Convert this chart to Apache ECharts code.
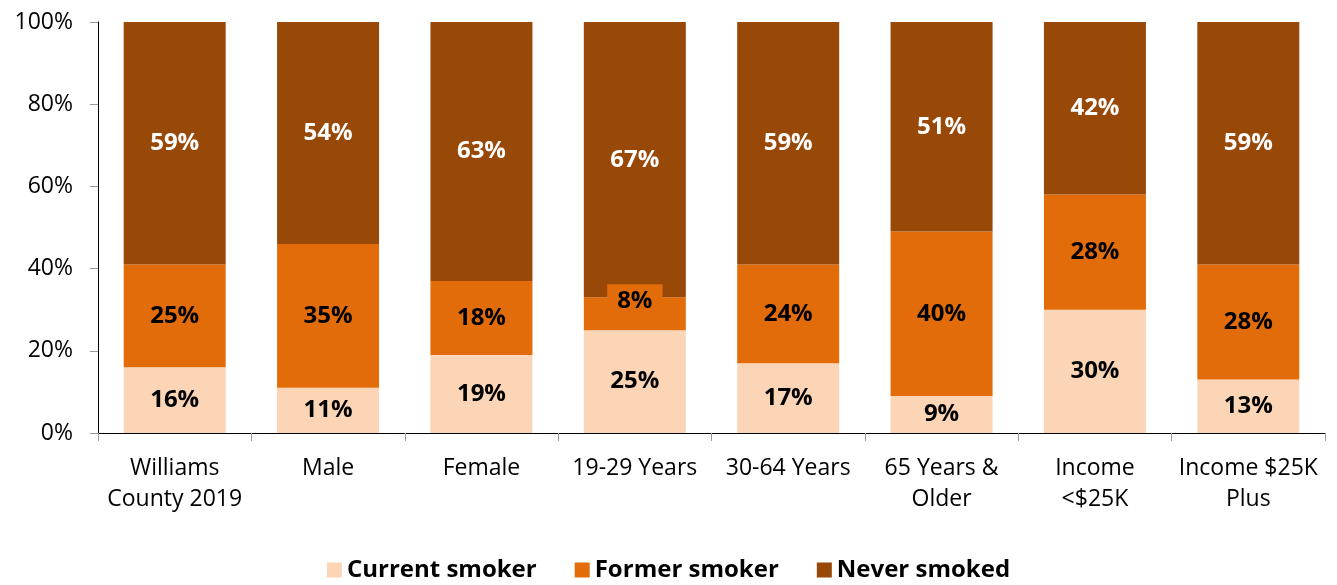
<!DOCTYPE html>
<html>
<head>
<meta charset="utf-8">
<script src="https://cdn.jsdelivr.net/npm/echarts@6/dist/echarts.min.js"></script>
<style>
  html, body { margin: 0; padding: 0; background: #fff; }
  #chart { width: 1337px; height: 585px; }
</style>
</head>
<body>
<div id="chart"></div>
<script>
const categories = ['Williams\nCounty 2019', 'Male', 'Female', '19-29 Years', '30-64 Years', '65 Years &\nOlder', 'Income\n<$25K', 'Income $25K\nPlus']
const currentSmoker = [16, 11, 19, 25, 17, 9, 30, 13]
const formerSmoker = [25, 35, 18, 8, 24, 40, 28, 28]
const neverSmoked = [59, 54, 63, 67, 59, 51, 42, 59]
const yTicks = [0, 20, 40, 60, 80, 100]

const font = '"Open Sans", "Noto Sans", sans-serif'
const colors = ['#FBD5B5', '#E36C0A', '#984807']

function seriesOf(name, values, color, textColor) {
  return {
    name: name,
    type: 'bar',
    stack: 'total',
    barWidth: 102,
    data: values,
    itemStyle: { color: color },
    label: {
      show: true,
      position: 'inside',
      formatter: p => p.value + '%',
      color: textColor,
      fontFamily: font,
      fontWeight: 'bold',
      fontSize: 24
    }
  }
}

const chart = echarts.init(document.getElementById('chart'))

const former = seriesOf('Former smoker', formerSmoker, colors[1], '#000')
// the small 19-29 label sits on its own box, pushed up a bit
former.data = formerSmoker.map((v, i) => i === 3 ? {
  value: v,
  label: { offset: [0, -13], backgroundColor: colors[1], padding: [7, 10, 2, 10] }
} : v)

chart.setOption({
  animation: false,
  grid: { left: 98, right: 12, top: 22, bottom: 152 },
  legend: {
    bottom: -2,
    left: 'center',
    itemWidth: 15,
    itemHeight: 15,
    itemGap: 38,
    itemTextGap: 6,
    icon: 'rect',
    textStyle: { fontFamily: font, fontWeight: 'bold', fontSize: 24, color: '#000' },
    data: ['Current smoker', 'Former smoker', 'Never smoked']
  },
  xAxis: {
    type: 'category',
    data: categories,
    axisLine: { lineStyle: { color: '#000', width: 1 } },
    axisTick: { show: true, length: 8, lineStyle: { color: '#999' } },
    axisLabel: {
      fontFamily: font,
      fontSize: 23,
      color: '#000',
      lineHeight: 31,
      margin: 20,
      interval: 0
    }
  },
  yAxis: {
    type: 'value',
    min: yTicks[0],
    max: yTicks[yTicks.length - 1],
    interval: 20,
    axisLine: { show: true, lineStyle: { color: '#000', width: 1 } },
    axisTick: { show: true, length: 8, lineStyle: { color: '#999' } },
    splitLine: { show: false },
    axisLabel: {
      fontFamily: font,
      fontSize: 23,
      color: '#000',
      margin: 25,
      formatter: v => v + '%'
    }
  },
  series: [
    seriesOf('Current smoker', currentSmoker, colors[0], '#000'),
    former,
    seriesOf('Never smoked', neverSmoked, colors[2], '#fff')
  ]
})
</script>
</body>
</html>
